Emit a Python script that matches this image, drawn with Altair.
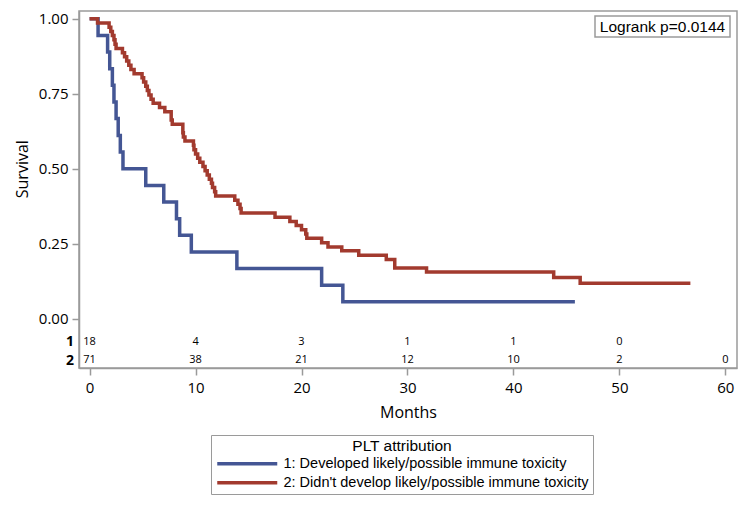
import altair as alt
import pandas as pd

# ---- data ----
group_names = ["1: Developed likely/possible immune toxicity",
               "2: Didn't develop likely/possible immune toxicity"]

times_1 = [0, 0.8, 1.7, 1.9, 2.15, 2.3, 2.5, 2.7, 2.9, 3.15, 5.3, 7.0, 8.2, 8.5,
           9.6, 13.9, 21.9, 23.9, 45.8]
surv_1 = [1.0, 0.944, 0.889, 0.833, 0.778, 0.722, 0.667, 0.611, 0.556, 0.5, 0.444,
          0.389, 0.333, 0.278, 0.222, 0.167, 0.111, 0.056, 0.056]

times_2 = [0, 0.75, 1.84, 2.0, 2.15, 2.3, 2.4, 2.5, 3.1, 3.3, 3.5, 3.7, 3.9, 4.2,
           4.95, 5.1, 5.3, 5.45, 5.6, 5.8, 6.0, 6.6, 7.1, 7.7, 7.8, 8.8, 8.85, 9.0,
           9.8, 9.85, 10.0, 10.2, 10.4, 10.7, 10.9, 11.1, 11.3, 11.5, 11.6, 11.8, 11.9,
           13.7, 14.0, 14.2, 14.3, 17.5, 18.9, 19.5, 20.0, 20.4, 20.5, 21.9, 22.5,
           23.8, 25.4, 28.0, 28.8, 31.8, 43.8, 46.3, 56.7]
surv_2 = [1.0, 0.986, 0.972, 0.958, 0.944, 0.930, 0.915, 0.901, 0.887, 0.873, 0.859,
          0.845, 0.831, 0.817, 0.803, 0.789, 0.775, 0.761, 0.746, 0.732, 0.718, 0.704,
          0.690, 0.662, 0.648, 0.620, 0.606, 0.592, 0.578, 0.563, 0.549, 0.535, 0.521,
          0.507, 0.493, 0.479, 0.465, 0.451, 0.437, 0.423, 0.409, 0.395, 0.381, 0.367,
          0.352, 0.338, 0.324, 0.310, 0.296, 0.282, 0.268, 0.253, 0.239, 0.226, 0.211,
          0.197, 0.169, 0.155, 0.137, 0.118, 0.118]

risk_times_1 = [0, 10, 20, 30, 40, 50]
risk_counts_1 = ["18", "4", "3", "1", "1", "0"]
risk_times_2 = [0, 10, 20, 30, 40, 50, 60]
risk_counts_2 = ["71", "38", "21", "12", "10", "2", "0"]

x_ticks = [0, 10, 20, 30, 40, 50, 60]
y_ticks = [0, 0.25, 0.5, 0.75, 1.0]
logrank_text = "Logrank p=0.0144"

colors = ["#445694", "#A23A2E"]

# ---- tables ----
curves = pd.concat([
    pd.DataFrame({"Months": times_1, "Survival": surv_1, "group": group_names[0]}),
    pd.DataFrame({"Months": times_2, "Survival": surv_2, "group": group_names[1]}),
])
risk1 = pd.DataFrame({"Months": risk_times_1, "n": risk_counts_1})
risk2 = pd.DataFrame({"Months": risk_times_2, "n": risk_counts_2})
one = pd.DataFrame({"k": [0]})

W, H = 658, 357
GRAY = "#9a9a9a"
AX_FONT = "Open Sans"
LG_FONT = "Liberation Sans"

xscale = alt.Scale(domain=[-1, 61.1], nice=False, zero=False)
yscale = alt.Scale(domain=[-0.165, 1.026], nice=False, zero=False)

lines = alt.Chart(curves).mark_line(interpolate="step-after", strokeWidth=3.5).encode(
    x=alt.X("Months:Q", scale=xscale,
            axis=alt.Axis(values=x_ticks, title="Months", format="d")),
    y=alt.Y("Survival:Q", scale=yscale,
            axis=alt.Axis(values=y_ticks, format=".2f", title="Survival", titleY=157.7)),
    color=alt.Color("group:N",
                    scale=alt.Scale(domain=group_names, range=colors),
                    legend=alt.Legend(
                        title="PLT attribution", orient="none", legendX=132, legendY=424,
                        direction="vertical", strokeColor=GRAY, fillColor="white",
                        padding=4, titleAnchor="middle", titleFontSize=15.5,
                        titleFontWeight="normal", titleFont=LG_FONT, titleColor="black",
                        titlePadding=2, labelFont=LG_FONT, labelFontSize=14.5,
                        labelColor="black", labelLimit=500,
                        symbolType="M-6,0H6", symbolSize=100, symbolStrokeWidth=3.5,
                        symbolOffset=25, labelOffset=29, rowPadding=3)),
)

risk_text1 = alt.Chart(risk1).mark_text(fontSize=11, font=AX_FONT, color="black",
                                        baseline="middle").encode(
    x=alt.X("Months:Q", scale=xscale), y=alt.value(331), text="n:N")
risk_text2 = alt.Chart(risk2).mark_text(fontSize=11, font=AX_FONT, color="black",
                                        baseline="middle").encode(
    x=alt.X("Months:Q", scale=xscale), y=alt.value(349), text="n:N")

row_lab1 = alt.Chart(one).mark_text(fontSize=14, font=AX_FONT, fontWeight="bold",
                                    align="right", baseline="middle", color="black").encode(
    x=alt.value(-5), y=alt.value(331), text=alt.value("1"))
row_lab2 = alt.Chart(one).mark_text(fontSize=14, font=AX_FONT, fontWeight="bold",
                                    align="right", baseline="middle", color="black").encode(
    x=alt.value(-5), y=alt.value(349.5), text=alt.value("2"))

box = alt.Chart(one).mark_rect(fill="white", stroke=GRAY, strokeWidth=1.5).encode(
    x=alt.value(516), x2=alt.value(651), y=alt.value(5), y2=alt.value(26))
box_text = alt.Chart(one).mark_text(fontSize=15.5, font=LG_FONT, color="black",
                                    align="center", baseline="middle").encode(
    x=alt.value(583.5), y=alt.value(15.5), text=alt.value(logrank_text))

chart = alt.layer(lines, risk_text1, risk_text2, row_lab1, row_lab2, box, box_text).properties(
    width=W, height=H,
    autosize=alt.AutoSizeParams(type="none"),
    padding={"left": 71, "top": 3, "right": 2, "bottom": 127},
).configure_view(stroke=GRAY, strokeWidth=1.5).configure_axis(
    grid=False, domainColor=GRAY, domainWidth=1.5, tickColor=GRAY, tickWidth=1.5,
    tickSize=7, labelFont=AX_FONT, labelFontSize=15, labelColor="black", labelPadding=4,
    titleFont=AX_FONT, titleFontSize=16, titleFontWeight="normal", titleColor="black",
).configure_axisX(titlePadding=9, labelPadding=5).configure_axisY(titlePadding=8)

chart.save("out.html", embed_options={"renderer": "svg", "actions": False})
